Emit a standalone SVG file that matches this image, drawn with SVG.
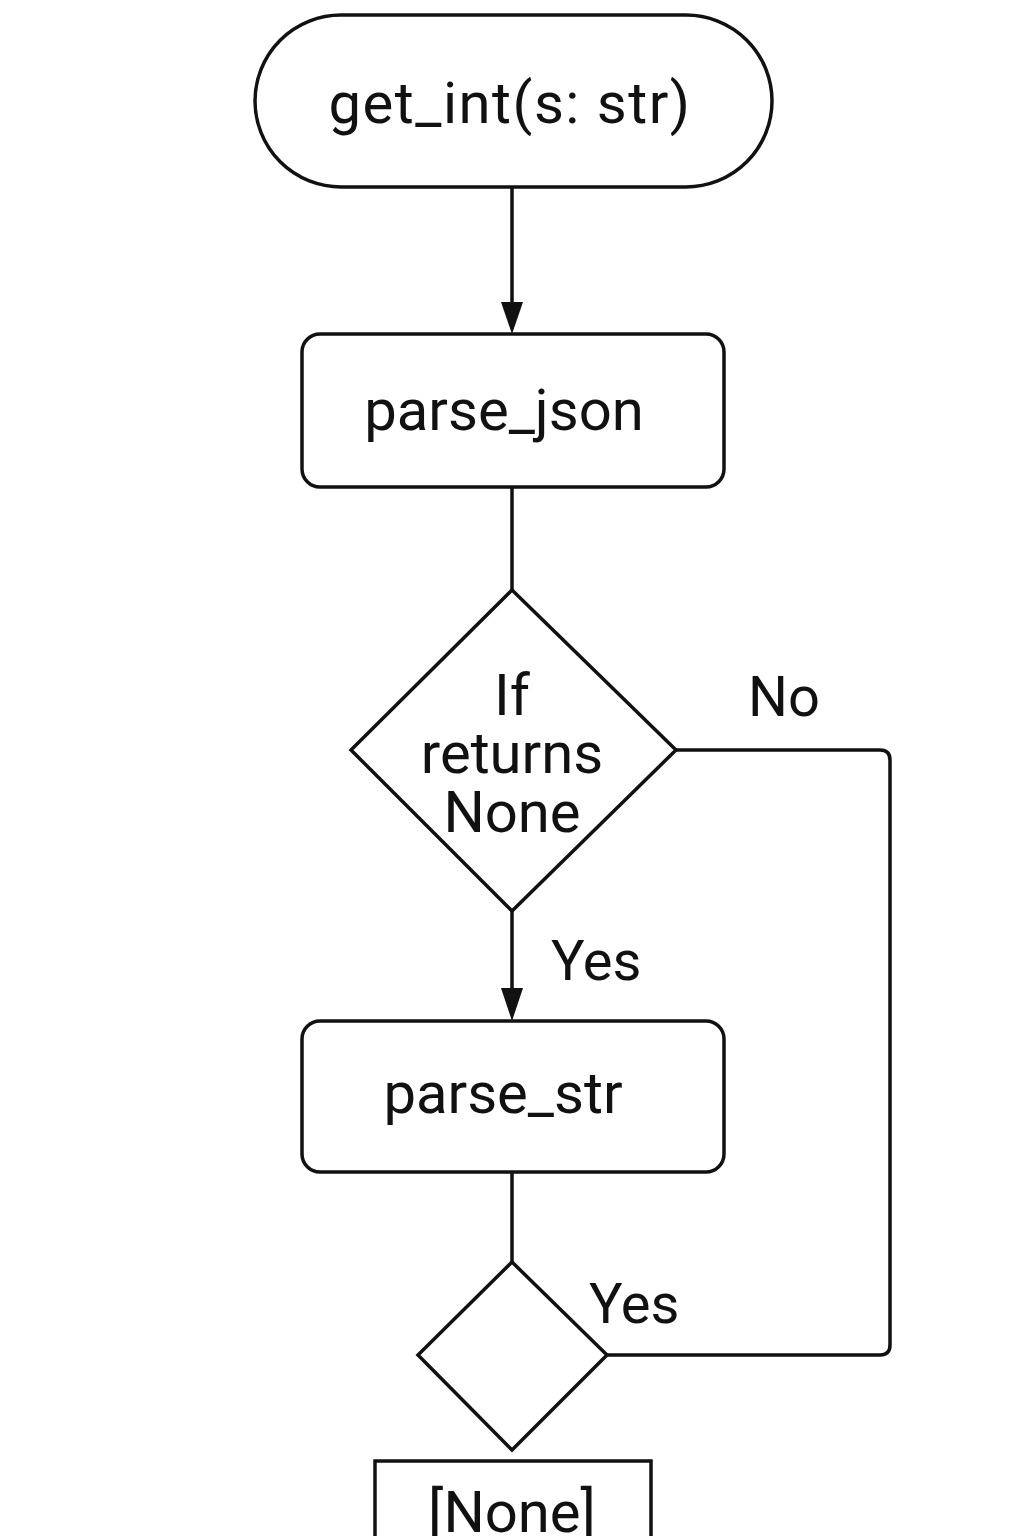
<svg xmlns="http://www.w3.org/2000/svg" width="1024" height="1536" viewBox="0 0 1024 1536">
<style>
.s{fill:#fff;stroke:#111;stroke-width:3.5}
.c{fill:none;stroke:#111;stroke-width:3.5;stroke-linejoin:round}
.t{font-family:Roboto,"Noto Sans","Liberation Sans",sans-serif;font-size:58px;fill:#111;text-anchor:middle}
.l{font-family:Roboto,"Noto Sans","Liberation Sans",sans-serif;font-size:56px;fill:#111}
</style>
<rect width="1024" height="1536" fill="#fff"/>
<g id="connectors">
<line class="c" x1="512" y1="187" x2="512" y2="310"/>
<path d="M501,302 L512,334 L523,302 Z" fill="#111"/>
<line class="c" x1="512" y1="487" x2="512" y2="590"/>
<line class="c" x1="512" y1="911" x2="512" y2="995"/>
<path d="M501,988 L512,1021 L523,988 Z" fill="#111"/>
<path class="c" d="M676,750 H880 Q890,750 890,760 V1345 Q890,1355 880,1355 H607"/>
<line class="c" x1="512" y1="1172" x2="512" y2="1262"/>
<text class="l" x="748" y="716">No</text>
<text class="l" x="551" y="980">Yes</text>
<text class="l" x="589" y="1323">Yes</text>
</g>
<g id="start">
<rect class="s" x="255" y="15" width="517" height="172" rx="86"/>
<text class="t" x="510" y="123" letter-spacing="1.5">get_int(s: str)</text>
</g>
<g id="parse_json">
<rect class="s" x="302" y="334" width="422" height="153" rx="18"/>
<text class="t" x="504" y="430">parse_json</text>
</g>
<g id="decision1">
<polygon class="s" points="512,590 676,750 512,911 351,750"/>
<text class="t" x="512" y="715">If</text>
<text class="t" x="512" y="773">returns</text>
<text class="t" x="512" y="832">None</text>
</g>
<g id="parse_str">
<rect class="s" x="302" y="1021" width="422" height="151" rx="18"/>
<text class="t" x="503" y="1113">parse_str</text>
</g>
<g id="decision2">
<polygon class="s" points="512,1262 607,1355 512,1450 418,1355"/>
</g>
<g id="none">
<rect class="s" x="375" y="1461" width="276" height="100"/>
<text class="t" x="512" y="1532">[None]</text>
</g>
</svg>
